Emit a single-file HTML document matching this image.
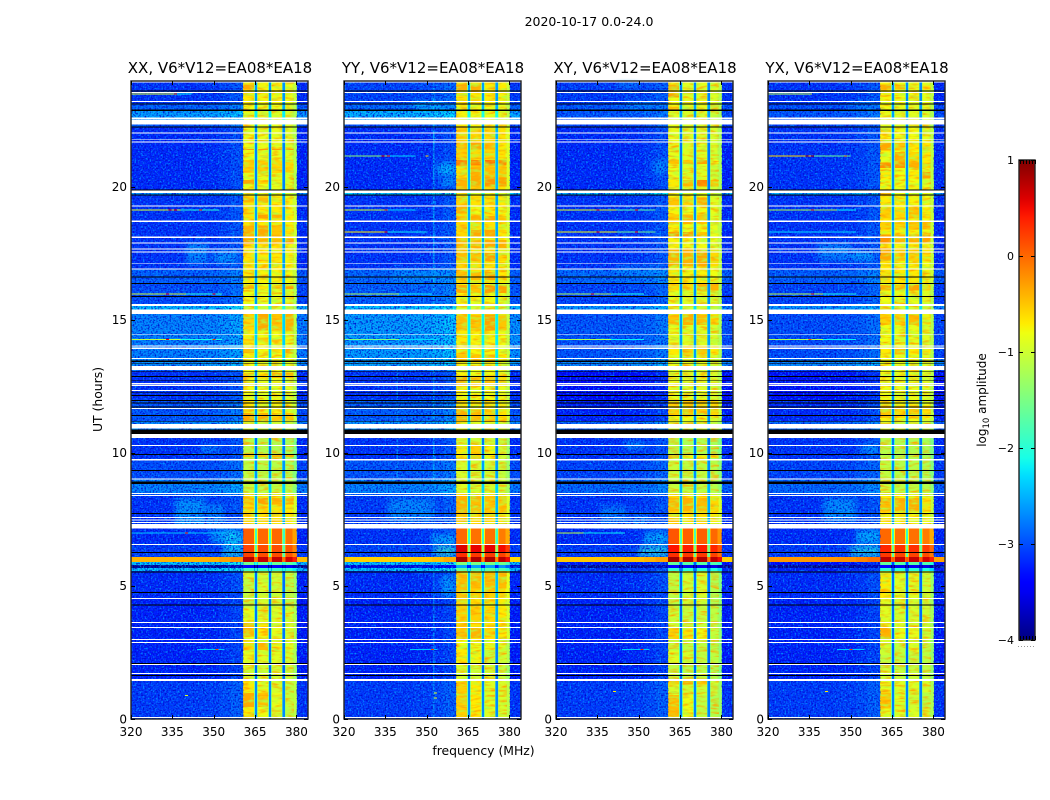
<!DOCTYPE html>
<html lang="en">
<head>
<meta charset="utf-8">
<title>2020-10-17 spectrograms</title>
<style>
html,body{margin:0;padding:0;background:#fff;}
svg{display:block;}
text{font-family:"DejaVu Sans","Liberation Sans",sans-serif;fill:#000;}
</style>
</head>
<body>
<svg id="figure" xmlns="http://www.w3.org/2000/svg" width="1050" height="800" viewBox="0 0 1050 800">
  <defs>
    <filter id="speckle-light" x="0" y="0" width="100%" height="100%" color-interpolation-filters="sRGB">
      <feTurbulence type="fractalNoise" baseFrequency="0.6" numOctaves="1" seed="4"/>
      <feColorMatrix type="matrix" values="0 0 0 0 0  0 0 0 0 0.6  0 0 0 0 1  3 0 0 0 -1.4"/>
    </filter>
    <filter id="speckle-dark" x="0" y="0" width="100%" height="100%" color-interpolation-filters="sRGB">
      <feTurbulence type="fractalNoise" baseFrequency="0.6" numOctaves="1" seed="9"/>
      <feColorMatrix type="matrix" values="0 0 0 0 0  0 0 0 0 0.03  0 0 0 0 0.8  0 3 0 0 -1.35"/>
    </filter>
    <filter id="streak-warm" x="0" y="0" width="100%" height="100%" color-interpolation-filters="sRGB">
      <feTurbulence type="fractalNoise" baseFrequency="0.1 0.4" numOctaves="2" seed="5"/>
      <feColorMatrix type="matrix" values="0 0 0 0 1  0 0 0 0 0.65  0 0 0 0 0  2.6 0 0 0 -1.15"/>
    </filter>
    <filter id="streak-green" x="0" y="0" width="100%" height="100%" color-interpolation-filters="sRGB">
      <feTurbulence type="fractalNoise" baseFrequency="0.1 0.3" numOctaves="2" seed="12"/>
      <feColorMatrix type="matrix" values="0 0 0 0 0.7  0 0 0 0 1  0 0 0 0 0.25  0 2.6 0 0 -1.25"/>
    </filter>
    <filter id="cloud-blur" x="-40%" y="-80%" width="180%" height="260%">
      <feGaussianBlur stdDeviation="3"/>
    </filter>
    <linearGradient id="jet-gradient" x1="0" y1="1" x2="0" y2="0"></linearGradient>
  </defs>
  <rect x="0" y="0" width="1050" height="800" fill="#fff"/>
  <g id="panels"></g>
  <text x="589" y="26" font-size="12.5" text-anchor="middle">2020-10-17 0.0-24.0</text>
  <text x="102" y="399.5" font-size="12.4" text-anchor="middle" transform="rotate(-90 102 399.5)">UT (hours)</text>
  <text x="483.5" y="755" font-size="12.4" text-anchor="middle">frequency (MHz)</text>
  <g id="colorbar"></g>
  <text x="986" y="400" font-size="12" text-anchor="middle" transform="rotate(-90 986 400)">log<tspan font-size="8.5" dy="3">10</tspan><tspan dy="-3"> amplitude</tspan></text>
</svg>
<script>
const panelTitles = ['XX, V6*V12=EA08*EA18', 'YY, V6*V12=EA08*EA18', 'XY, V6*V12=EA08*EA18', 'YX, V6*V12=EA08*EA18'];
const freqTicks = [320, 335, 350, 365, 380];
const utTicks = [0, 5, 10, 15, 20];
const colorTicks = [1, 0, -1, -2, -3, -4];

/* time segments, UT hours (top to bottom) */
const segmentEdgesUT = [24,23.1,22.87,22.52,22.26,19.87,19.68,16.9,16.37,15.58,15.3,13.5,13.1,12,11.2,10.8,9.74,9.02,8.44,7.16,6.56,6.26,6.09,5.9,5.79,5.68,5.56,4.53,3,2,1.45,0];

/* log10 amplitude of the quiet spectrum per segment */
const lowXX = [-3.15,-2.9,-2.55,-2.95,-3.2,-2.6,-3.15,-2.9,-3,-2.4,-2.7,-2.6,-3.15,-2.95,-2.65,-3.15,-3,-2.7,-3.15,-3.2,-3.1,-3.05,-0.4,-2.35,-4,-2.35,-3.2,-3.25,-3.25,-3.25,-3.1];
const lowYY = [-3.05,-2.85,-2.45,-2.95,-3.2,-2.3,-3.15,-2.85,-2.9,-2.35,-2.55,-2.5,-3.15,-2.9,-2.6,-3.15,-2.95,-2.7,-3.1,-3.15,-3.05,-3.05,-0.55,-2.35,-3.6,-2.35,-3.2,-3.25,-3.25,-3.25,-3.1];
const lowXY = [-3.1,-2.95,-2.95,-3.05,-3.2,-2.4,-3.15,-2.85,-3.05,-2.6,-2.95,-2.65,-3.4,-3.25,-2.85,-3.15,-3.05,-2.85,-3.15,-3.2,-3.1,-3.1,-0.5,-3.3,-4,-3.15,-3.2,-3.25,-3.25,-3.25,-3.1];
const lowYX = [-3.15,-3,-2.95,-3.05,-3.15,-2.5,-3.15,-2.9,-3.05,-2.6,-3,-2.65,-3.35,-3.2,-2.85,-3.15,-3.05,-2.85,-3.15,-3.2,-3.1,-3.1,-0.25,-3.4,-4,-3.25,-3.2,-3.25,-3.25,-3.25,-3.1];

/* log10 amplitude of the 360-380 MHz band per segment */
const bandXX = [-0.75,-0.85,-0.9,-0.85,-0.85,-0.9,-0.7,-0.75,-0.85,-1,-0.8,-0.85,-0.85,-0.75,-1,-1.2,-1.15,-1.1,-0.65,0,0.15,0.15,0.7,-1.6,-3.4,-1.9,-1,-0.9,-0.9,-1,-0.8];
const bandYY = [-0.7,-0.8,-0.8,-0.75,-0.6,-0.9,-0.65,-0.65,-0.8,-1,-0.75,-0.85,-0.8,-0.7,-0.9,-1,-1,-0.95,-0.6,-0.05,0.55,0.25,0.8,-1.5,-2.6,-1.7,-0.55,-0.65,-0.85,-1,-0.8];
const bandXY = [-0.85,-0.85,-0.95,-0.9,-0.9,-0.9,-0.8,-0.75,-0.9,-1,-0.9,-0.85,-0.9,-0.8,-1,-1.2,-1.1,-1.1,-0.65,0.05,0.4,0.25,0.8,-1.7,-3.5,-2,-1.15,-1.05,-1.1,-1.15,-1];
const bandYX = [-0.8,-0.85,-0.9,-0.9,-0.8,-0.9,-0.75,-0.7,-0.85,-1,-0.85,-0.85,-0.85,-0.8,-1,-1.2,-1.15,-1.1,-0.75,-0.05,0.3,0.2,0.7,-1.7,-3.5,-2,-1,-0.95,-1.05,-1.05,-0.9];

/* frequency channels */
const channelEdgesMHz = [320,345,352,356,360.7,364.6,364.9,365.7,366,369.7,370,370.8,371.1,374.7,375,375.8,376.1,378.5,380.2,384.2];
const channelRole = ['low','low','low','low','band','shoulder','notch','shoulder','band','shoulder','notch','shoulder','band','shoulder','notch','shoulder','band','band','low'];
const channelGain = [0,0.03,0.1,0.2,0.05,0,0,0,0,0,0,0,0,0,0,0,-0.05,-0.3,-0.05];
const subBandEdgesMHz = [[360.7,364.6],[366,369.7],[371.1,374.7],[376.1,379]];
const bandStartMHz = 360.7, bandEndMHz = 380.2;
const textureRangesUT = [[24,7.16],[5.56,0]];

/* band patches: [UT hi, UT lo, level in each of the 4 sub-bands] */
const bandPatchesXX = [[23.83,23.65,-0.35,null,null,null],[21.41,21.37,-0.25,-0.25,-0.25,-0.25],[21,20.52,-0.55,-0.55,-0.6,-0.6],[20.25,20.1,-0.35,-0.6,null,null],[19.6,19.4,-0.45,-0.45,-0.7,null],[18.95,18.8,null,-0.3,-0.45,-0.7],[18.55,18.1,-0.4,-0.35,-0.5,-0.7],[18.05,17.85,-0.25,-0.4,-0.45,-0.25],[16.25,16.15,-0.35,-0.7,-0.4,-0.3],[15.26,14.6,-0.6,-0.35,-0.5,-0.4],[14.28,14.18,-0.55,-0.55,-0.55,-0.7],[13.95,13.76,-0.45,-0.8,-0.7,-0.35],[13,12.82,-0.5,-0.7,-0.4,-0.4],[11.5,11.2,-0.35,-0.4,-0.5,-0.5],[9.93,9.85,-0.5,-0.5,-0.4,-0.4],[8.3,8.05,-0.5,-0.3,-0.4,-0.4],[5.3,4.2,-1.1,-0.95,-1,-1.15],[3.6,3.1,-0.45,-0.7,-0.85,-0.95],[2.85,2.6,-0.6,-0.45,-0.75,-0.9],[1.4,0,-0.7,-0.8,-0.95,-1.1],[0.98,0.45,-0.35,-0.5,-0.85,-1.05]];
const bandPatchesYY = [[23.83,23.6,-0.4,-0.4,-0.7,-0.7],[21.7,21.4,-0.5,-0.35,-0.45,-0.7],[21,20.8,-0.15,-0.15,-0.05,-0.2],[20.75,20.35,-0.65,-0.4,-0.45,-0.5],[20.35,20,-0.4,-0.35,-0.25,-0.3],[19.3,19,-0.4,-0.8,-0.7,-0.8],[18.9,18.7,-0.5,-0.4,-0.35,-0.5],[18.38,18.1,-0.6,-0.35,-0.35,-0.7],[18,17.7,-0.45,-0.45,-0.35,-0.4],[17.5,17.2,-0.45,-0.5,-0.3,-0.6],[16.8,16.5,-0.45,-0.45,-0.35,-0.7],[16.3,16,-0.35,-0.5,-0.25,-0.3],[15.2,14.6,-0.45,-0.5,-0.3,-0.5],[13.7,13.4,-0.5,-0.5,-0.5,-0.7],[12.9,12.5,-0.4,-0.5,-0.5,-0.6],[11.6,11.2,-0.4,-0.45,-0.55,-0.65],[10.3,9.8,-0.7,-0.55,-0.75,-1],[8.4,7.7,-0.4,-0.45,-0.5,-0.5],[5.5,4.9,-0.45,-0.45,-0.45,-0.45],[4.2,3.6,-0.55,-0.55,-0.6,-0.7],[3.4,3.05,-0.5,-0.4,-0.6,-0.7],[2.6,2.1,-0.7,-0.75,-1.05,-1],[1.4,0,-0.55,-0.7,-0.9,-0.95]];
const bandPatchesXY = [[23.83,23.65,-0.4,-0.9,-0.9,-0.9],[23.5,23.35,-0.3,-0.9,-0.9,-0.9],[23,22.9,-0.45,-0.9,-0.9,-0.9],[21,20.85,-0.5,-0.55,-0.3,-0.8],[20.25,20,-0.7,-0.45,-0.15,-0.5],[19.6,19.3,-0.5,-0.6,-0.4,-0.9],[18.95,18.6,-0.55,-0.4,-0.5,-0.9],[18.3,18.1,-0.25,-0.3,-0.5,-0.85],[17.65,17,-0.4,-0.4,-0.35,-0.6],[16.35,16.1,-0.6,-0.6,-0.4,-0.4],[15.2,14.8,-0.5,-0.4,-0.45,-0.6],[14,13.7,-0.7,-0.55,-0.5,-0.7],[12,11.4,-0.55,-0.5,-0.55,-0.6],[9.9,9.8,-0.4,-0.7,-0.7,-0.7],[8.3,7.8,-0.45,-0.4,-0.45,-0.6],[5.5,4.3,-1.1,-1,-0.95,-1.2],[3.4,3,-0.55,-0.65,-0.8,-1.05],[2.6,2.1,-0.9,-0.95,-1.1,-1.1],[1.45,1.3,-0.6,-0.4,-0.5,-1],[0.9,0.1,-0.45,-0.8,-1.1,-1.2]];
const bandPatchesYX = [[23.83,23.65,-0.4,-0.5,-0.9,-0.7],[21.65,21.35,-0.35,-0.5,-0.7,-0.7],[21.3,20.9,-0.85,-0.4,-0.6,-0.7],[20.9,20.7,-0.2,-0.25,-0.4,-0.6],[20.55,20.3,-0.7,-0.8,-0.7,-0.3],[19.85,19.7,-0.4,-0.8,-0.8,-0.8],[19.2,18.8,-0.55,-0.6,-0.5,-0.7],[18.7,18.4,-0.55,-0.6,-0.5,-0.45],[18.2,17.9,-0.2,-0.4,-0.4,-0.3],[17.7,17.2,-0.35,-0.55,-0.55,-0.65],[16.3,16.1,-0.4,-0.5,-0.3,-0.55],[15.2,14.8,-0.55,-0.55,-0.45,-0.75],[13.95,13.7,-0.7,-0.5,-0.7,-0.7],[11.8,11.3,-0.5,-0.6,-0.55,-0.65],[8.3,7.8,-0.45,-0.4,-0.4,-0.65],[5.45,4.5,-0.7,-0.9,-0.9,-1],[3.4,3.05,-0.4,-0.8,-0.85,-1],[3,2.5,-0.95,-1.05,-0.9,-1.1],[2.4,1.9,-1.1,-1.1,-1.1,-1.1],[1,0.4,-0.5,-0.9,-1,-1.15]];

/* diffuse clouds in the quiet spectrum: [MHz lo, MHz hi, UT hi, UT lo, level] */
const cloudsXX = [[340,348,17.9,17.1,-2.55],[350,358,17.6,17.1,-2.5],[336,347,8.3,7.2,-2.45],[347,354,8.1,7.1,-2.6],[349,357,7.1,6.6,-2.45],[354,360.7,7.1,6.3,-2.2],[353,360.7,6.3,6.1,-2],[345,352,10.3,10,-2.6]];
const cloudsYY = [[345,356,23.2,22.9,-2.4],[354,360.7,20.9,20.4,-2.3],[355,360.7,20.3,20,-2.5],[338,358,16.9,16.4,-2.6],[336,352,8.3,7.4,-2.55],[352,360.7,6.9,6.6,-2.3],[353,360.7,6.5,6.1,-1.9],[355,360.7,5.4,4.6,-2.5],[352.2,352.8,23.7,9,-2.4],[352.2,352.8,9,0,-2.6],[339,339.6,16,9,-2.6]];
const cloudsXY = [[345,355,23.2,22.95,-2.6],[342,350,23.9,23.7,-2.6],[355,360.7,21,20.5,-2.6],[342,358,17,16.7,-2.6],[345,352,10.4,10.15,-2.45],[336,346,8,7.3,-2.65],[347,354,7.7,7.2,-2.65],[352,360.7,7,6.6,-2.3],[350,360.7,6.5,6.1,-2]];
const cloudsYX = [[338,350,17.9,17.2,-2.6],[350,358,17.6,17.2,-2.4],[350,358,23.2,23,-2.6],[340,352,8.3,7.4,-2.5],[352,360.7,7.1,6.6,-2.3],[350,360.7,6.5,6.1,-2.05],[354,360,10.3,10,-2.5]];

/* RFI lines: [MHz lo, MHz hi, UT, level] */
const rfiXX = [[320,336,23.5,-0.9],[336,342,23.5,-2.2],[320,338,19.14,-0.9],[338,352,19.14,-2],[320,340,15.98,-1],[340,353,15.98,-2],[320,338,14.27,-1.1],[338,353,14.27,-2.1],[320,354,7,-2.4],[344,354,2.63,-2.4]];
const rfiYY = [[320,336,21.17,-1.4],[336,346,21.17,-2.3],[320,336,19.14,-1],[336,346,19.14,-2.3],[320,335,18.32,-0.7],[335,350,18.32,-2.2],[320,340,15.98,-1.2],[340,352,15.98,-2.2],[320,340,14.27,-1.5],[340,354,14.27,-2.3],[344,354,2.63,-2.4]];
const rfiXY = [[320,342,19.14,-0.9],[342,356,19.14,-1.7],[320,342,18.32,-0.8],[342,356,18.32,-1.6],[320,340,15.98,-1.2],[340,352,15.98,-2.1],[320,340,14.27,-1.2],[340,352,14.27,-2.2],[320,330,7,-1.1],[330,345,7,-2.2],[344,354,2.63,-2.4]];
const rfiYX = [[320,336,21.17,-0.6],[336,350,21.17,-1.6],[320,336,23.5,-1.1],[320,345,19.14,-1.2],[345,352,19.14,-2.2],[320,352,18.32,-2.3],[320,340,15.98,-1.1],[340,352,15.98,-2.1],[320,340,14.27,-1.2],[340,352,14.27,-2.2],[345,355,2.63,-2.4]];

/* RFI hot spots: [MHz, UT, level] */
const spotsXX = [[334,19.14,0.5],[336,19.14,0.5],[345,19.14,0.1],[333,15.98,0.5],[350,15.98,0.5],[333,14.27,0.5],[350,14.27,0.3],[340,7,0.2],[351,2.63,0.3],[336,23.5,0.1],[340,0.9,-0.9]];
const spotsYY = [[334,21.17,0.6],[336,21.17,0.2],[335,19.14,0.2],[335,18.32,0.5],[350,21.17,-0.6],[352,2.63,0.3],[353,1,-0.9],[353,0.8,-0.9]];
const spotsXY = [[335,19.14,0.3],[349,19.14,0.3],[335,18.32,0.5],[349,18.32,0.3],[333,15.98,0.3],[351,2.63,0.4],[341,1.05,-0.7]];
const spotsYX = [[334,21.17,0.8],[336,21.17,0.8],[348,21.17,-0.3],[336,19.14,0.2],[336,15.98,0.2],[335,14.27,0.2],[350,2.63,0.3],[341,1.05,-0.7]];

/* flagged (blank) and zero-amplitude (black) rows: [UT lo, UT hi] */
const blankRows = [[23.91,24],[23.52,23.55],[23.19,23.22],[22.54,22.59],[22.33,22.52],[21.99,22.03],[21.75,21.78],[21.66,21.7],[19.76,19.85],[19.25,19.29],[18.68,18.72],[18.08,18.12],[17.86,17.9],[17.63,17.67],[17.52,17.56],[17.11,17.14],[16.88,16.92],[15.51,15.6],[15.21,15.39],[14.44,14.47],[14,14.04],[13.91,13.95],[13.53,13.57],[13.12,13.27],[12.59,12.63],[12.52,12.56],[12.33,12.37],[11.65,11.69],[10.92,11.09],[10.55,10.71],[10.26,10.3],[9.72,9.76],[9,9.04],[8.46,8.5],[8.38,8.42],[7.56,7.59],[7.46,7.5],[7.37,7.41],[7.16,7.33],[6.54,6.58],[4.51,4.55],[3.61,3.65],[3.42,3.46],[2.97,3.01],[2.86,2.89],[2.03,2.07],[1.69,1.73],[1.43,1.5],[0.04,0.08]];
const blackRows = [[23.57,23.61],[23.08,23.12],[22.84,22.89],[22.22,22.26],[19.85,19.89],[19.66,19.7],[16.58,16.62],[16.35,16.39],[15.86,15.9],[13.42,13.46],[13.35,13.38],[13.03,13.06],[12.84,12.88],[12.71,12.74],[12.24,12.27],[12.14,12.18],[11.95,11.99],[11.86,11.9],[11.71,11.75],[11.39,11.43],[11.15,11.18],[10.71,10.88],[9.92,9.96],[9.32,9.36],[8.83,8.93],[7.71,7.74],[6.24,6.28],[5.51,5.55],[4.74,4.77],[4.27,4.3],[2.07,2.11],[1.62,1.65]];

const panelLows = [lowXX, lowYY, lowXY, lowYX];
const panelBands = [bandXX, bandYY, bandXY, bandYX];
const panelPatches = [bandPatchesXX, bandPatchesYY, bandPatchesXY, bandPatchesYX];
const panelClouds = [cloudsXX, cloudsYY, cloudsXY, cloudsYX];
const panelRfi = [rfiXX, rfiYY, rfiXY, rfiYX];
const panelSpots = [spotsXX, spotsYY, spotsXY, spotsYX];

const axesLeft = [131, 344, 556, 768];
const axesWidth = 177, axesTop = 81, axesBottom = 719;
const freqMin = 320, freqMax = 384.2, utMax = 23.97, colorMin = -4, colorMax = 1;
const barLeft = 1019, barRight = 1035, barTop = 160, barBottom = 640;
const SVGNS = 'http://www.w3.org/2000/svg';

function xScale(p, f) { return axesLeft[p] + (f - freqMin) * axesWidth / (freqMax - freqMin); }
function yScale(ut) { return Math.max(axesTop, axesBottom - ut * (axesBottom - axesTop) / utMax); }
function colorScale(v) { return barBottom - (v - colorMin) * (barBottom - barTop) / (colorMax - colorMin); }

function jet(level) {
  const t = Math.min(1, Math.max(0, (level - colorMin) / (colorMax - colorMin)));
  const r = Math.min(1, Math.max(0, t < 0.89 ? (t - 0.35) / 0.31 : 1 - (t - 0.89) / 0.11 * 0.5));
  const g = Math.min(1, Math.max(0, t < 0.64 ? (t - 0.125) / 0.25 : 1 - (t - 0.64) / 0.27));
  const b = Math.min(1, Math.max(0, t < 0.35 ? 0.5 + t / 0.11 * 0.5 : 1 - (t - 0.35) / 0.31));
  return 'rgb(' + Math.round(r * 255) + ',' + Math.round(g * 255) + ',' + Math.round(b * 255) + ')';
}

function makeRect(parent, x, y, w, h, fill) {
  const el = document.createElementNS(SVGNS, 'rect');
  el.setAttribute('x', x);
  el.setAttribute('y', y);
  el.setAttribute('width', w);
  el.setAttribute('height', h);
  el.setAttribute('fill', fill);
  el.setAttribute('shape-rendering', 'crispEdges');
  parent.appendChild(el);
  return el;
}
function makeLine(parent, x1, y1, x2, y2, stroke) {
  const el = document.createElementNS(SVGNS, 'line');
  el.setAttribute('x1', x1);
  el.setAttribute('y1', y1);
  el.setAttribute('x2', x2);
  el.setAttribute('y2', y2);
  el.setAttribute('stroke', stroke);
  el.setAttribute('stroke-width', 1);
  el.setAttribute('shape-rendering', 'crispEdges');
  parent.appendChild(el);
  return el;
}
function makeText(parent, x, y, str, size, anchor) {
  const el = document.createElementNS(SVGNS, 'text');
  el.setAttribute('x', x);
  el.setAttribute('y', y);
  el.setAttribute('font-size', size);
  el.setAttribute('text-anchor', anchor);
  el.textContent = str;
  parent.appendChild(el);
  return el;
}

function levelAt(panel, role, channel, seg) {
  const low = panelLows[panel][seg];
  const band = panelBands[panel][seg];
  const gain = channelGain[channel];
  if (role === 'low') return low + gain;
  if (role === 'notch') return Math.max(low + 0.35, band - 1.9);
  if (role === 'shoulder') return band - 0.7;
  return band + gain;
}

function drawGrid(g, p, wantLow) {
  for (let s = 0; s < segmentEdgesUT.length - 1; s++) {
    const y0 = yScale(segmentEdgesUT[s]), y1 = yScale(segmentEdgesUT[s + 1]);
    for (let c = 0; c < channelRole.length; c++) {
      if ((channelRole[c] === 'low') !== wantLow) continue;
      const x0 = xScale(p, channelEdgesMHz[c]), x1 = xScale(p, channelEdgesMHz[c + 1]);
      const level = levelAt(p, channelRole[c], c, s);
      const cell = makeRect(g, x0, y0, x1 - x0, y1 - y0, jet(level));
      
      
    }
  }
}

function drawPanel(p) {
  const root = document.getElementById('panels');
  const g = document.createElementNS(SVGNS, 'g');
  
  
  root.appendChild(g);

  const left = axesLeft[p], right = left + axesWidth;

  /* quiet-spectrum cells */
  drawGrid(g, p, true);

  /* diffuse clouds */
  panelClouds[p].forEach(function (cl) {
    const x0 = xScale(p, cl[0]), x1 = xScale(p, cl[1]), y0 = yScale(cl[2]), y1 = yScale(cl[3]);
    const el = makeRect(g, x0, y0, x1 - x0, y1 - y0, jet(cl[4]));
    el.setAttribute('opacity', '0.75');
    if (cl[1] - cl[0] > 2) el.setAttribute('filter', 'url(#cloud-blur)');
    
    
  });

  /* band cells */
  drawGrid(g, p, false);

  /* sub-band patches */
  panelPatches[p].forEach(function (pa) {
    const y0 = yScale(pa[0]), y1 = yScale(pa[1]);
    for (let i = 0; i < 4; i++) {
      const level = pa[i + 2];
      if (level === null) continue;
      const x0 = xScale(p, subBandEdgesMHz[i][0]), x1 = xScale(p, subBandEdgesMHz[i][1]);
      const el = makeRect(g, x0, y0, x1 - x0, y1 - y0, jet(level));
      
      
    }
  });

  /* decorative streak texture over the sub-bands, skipping the bright hours */
  subBandEdgesMHz.forEach(function (sb) {
    const x0 = xScale(p, sb[0]), x1 = xScale(p, sb[1]);
    textureRangesUT.forEach(function (range) {
      const y0 = yScale(range[0]), y1 = yScale(range[1]);
      const w = makeRect(g, x0, y0, x1 - x0, y1 - y0, '#000');
      w.setAttribute('filter', 'url(#streak-warm)');
      
      
      const n = makeRect(g, x0, y0, x1 - x0, y1 - y0, '#000');
      n.setAttribute('filter', 'url(#streak-green)');
      
      
    });
  });

  /* decorative receiver-noise texture over the quiet spectrum */
  const quiet = [[freqMin, bandStartMHz], [bandEndMHz, freqMax]];
  quiet.forEach(function (q) {
    const x0 = xScale(p, q[0]), x1 = xScale(p, q[1]);
    const a = makeRect(g, x0, axesTop, x1 - x0, axesBottom - axesTop, '#000');
    a.setAttribute('filter', 'url(#speckle-light)');
    
    
    const b = makeRect(g, x0, axesTop, x1 - x0, axesBottom - axesTop, '#000');
    b.setAttribute('filter', 'url(#speckle-dark)');
    
    
  });

  /* rows too bright for the noise texture are painted back on top */
  for (let s = 0; s < segmentEdgesUT.length - 1; s++) {
    if (panelLows[p][s] < -1.5) continue;
    const y0 = yScale(segmentEdgesUT[s]), y1 = yScale(segmentEdgesUT[s + 1]);
    for (let c = 0; c < channelRole.length; c++) {
      if (channelRole[c] !== 'low') continue;
      const x0 = xScale(p, channelEdgesMHz[c]), x1 = xScale(p, channelEdgesMHz[c + 1]);
      const hot = makeRect(g, x0, y0, x1 - x0, y1 - y0, jet(levelAt(p, 'low', c, s)));
      
      
    }
  }

  /* RFI lines and hot spots */
  panelRfi[p].forEach(function (r) {
    const x0 = xScale(p, r[0]), x1 = xScale(p, r[1]);
    const el = makeRect(g, x0, yScale(r[2]), x1 - x0, 1, jet(r[3]));
    
    
  });
  panelSpots[p].forEach(function (sp) {
    const el = makeRect(g, xScale(p, sp[0]) - 1, yScale(sp[1]), 3, 1, jet(sp[2]));
    
    
  });

  /* zero-amplitude and flagged rows */
  blackRows.forEach(function (r) {
    const y0 = yScale(r[1]), y1 = yScale(r[0]);
    const el = makeRect(g, left, y0, axesWidth, y1 - y0, '#000');
    
    
  });
  blankRows.forEach(function (r) {
    const y0 = yScale(r[1]), y1 = yScale(r[0]);
    const el = makeRect(g, left, y0, axesWidth, y1 - y0, '#fff');
    
    
  });

  /* frame */
  const frame = document.createElementNS(SVGNS, 'rect');
  frame.setAttribute('x', left);
  frame.setAttribute('y', axesTop);
  frame.setAttribute('width', axesWidth);
  frame.setAttribute('height', axesBottom - axesTop);
  frame.setAttribute('fill', 'none');
  frame.setAttribute('stroke', '#222');
  frame.setAttribute('stroke-width', '1.4');
  
  
  g.appendChild(frame);

  /* ticks and tick labels */
  freqTicks.forEach(function (f) {
    const x = Math.round(xScale(p, f)) + 0.5;
    const top = makeLine(g, x, axesTop, x, axesTop + 4, '#000');
    
    
    const bottom = makeLine(g, x, axesBottom - 4, x, axesBottom, '#000');
    
    
    const label = makeText(g, xScale(p, f), 736, String(f), 12, 'middle');
    
    
  });
  utTicks.forEach(function (ut) {
    const y = Math.round(yScale(ut)) + 0.5;
    const l = makeLine(g, left, y, left + 4, y, '#000');
    
    
    const r = makeLine(g, right - 4, y, right, y, '#000');
    
    
    const label = makeText(g, left - 4, yScale(ut) + 4.3, String(ut), 12, 'end');
    
    
  });

  const title = makeText(g, (left + right) / 2 + 0.5, 73, panelTitles[p], 15, 'middle');
  
  
}

function drawColorbar() {
  const g = document.getElementById('colorbar');
  const grad = document.getElementById('jet-gradient');
  for (let i = 0; i <= 50; i++) {
    const stop = document.createElementNS(SVGNS, 'stop');
    stop.setAttribute('offset', (i / 50));
    stop.setAttribute('stop-color', jet(colorMin + (colorMax - colorMin) * i / 50));
    grad.appendChild(stop);
  }
  const bar = makeRect(g, barLeft, barTop, barRight - barLeft, barBottom - barTop, 'url(#jet-gradient)');
  
  
  const frame = document.createElementNS(SVGNS, 'rect');
  frame.setAttribute('x', barLeft);
  frame.setAttribute('y', barTop);
  frame.setAttribute('width', barRight - barLeft);
  frame.setAttribute('height', barBottom - barTop);
  frame.setAttribute('fill', 'none');
  frame.setAttribute('stroke', '#222');
  frame.setAttribute('stroke-width', '1.4');
  
  
  g.appendChild(frame);

  colorTicks.forEach(function (v) {
    const y = Math.round(colorScale(v)) + 0.5;
    const l = makeLine(g, barLeft, y, barLeft + 4, y, '#000');
    
    
    const r = makeLine(g, barRight - 4, y, barRight, y, '#000');
    
    
    const label = makeText(g, barLeft - 5, colorScale(v) + 4, (v < 0 ? '\u2212' + (-v) : String(v)), 11, 'end');
    
    
  });
  for (let i = 0; i < 6; i++) {
    const x = barLeft + 1 + i * 3;
    const t = makeLine(g, x + 0.5, barTop, x + 0.5, barTop + 4, '#000');
    
    
    const b = makeLine(g, x + 0.5, barBottom - 4, x + 0.5, barBottom, '#000');
    
    
    const d = makeRect(g, x - 2, 646, 1, 1, '#999');
    
    
  }
}

for (let p = 0; p < 4; p++) drawPanel(p);
drawColorbar();
</script>
</body>
</html>
